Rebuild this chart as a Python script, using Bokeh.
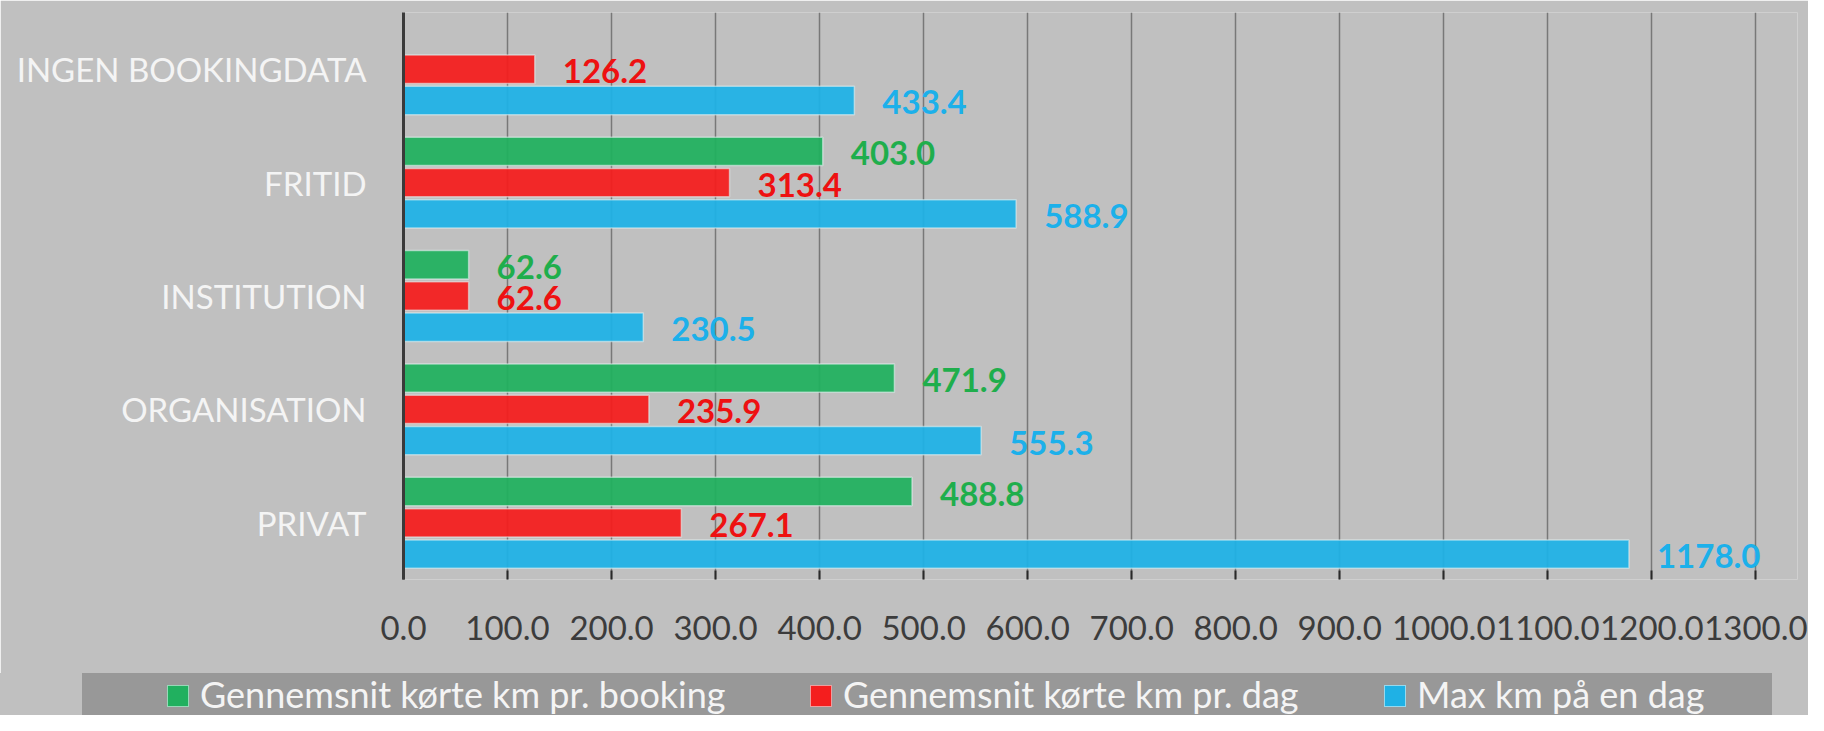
from bokeh.plotting import figure
from bokeh.layouts import column
from bokeh.models import (FactorRange, Range1d, ColumnDataSource, Div,
                          FixedTicker, NumeralTickFormatter)
from bokeh.transform import dodge
from bokeh.core.properties import value
from bokeh.embed import file_html
from bokeh.resources import INLINE

# ---- data ----
categories = ["INGEN BOOKINGDATA", "FRITID", "INSTITUTION", "ORGANISATION", "PRIVAT"]
avg_km_per_booking = [None, 403.0, 62.6, 471.9, 488.8]
avg_km_per_day = [126.2, 313.4, 62.6, 235.9, 267.1]
max_km_per_day = [433.4, 588.9, 230.5, 555.3, 1178.0]
series_names = ["Gennemsnit kørte km pr. booking", "Gennemsnit kørte km pr. dag", "Max km på en dag"]
x_tick_values = [0, 100, 200, 300, 400, 500, 600, 700, 800, 900, 1000, 1100, 1200, 1300]

# ---- styles ----
BG = "#c0c0c0"
LEGEND_BG = "#989898"
bar_colors = ["#21b05f", "#f41e1e", "#1fb1e5"]
label_colors = ["#1fae4c", "#ee1111", "#1cb0ea"]
offsets = [0.276, 0.0, -0.276]
FONT = "Lato"
bar_style = dict(fill_alpha=0.94, line_color="#e8f4f4", line_alpha=0.55, line_width=1.5)

p = figure(width=1808, height=673, output_backend="svg", toolbar_location=None,
           y_range=FactorRange(factors=list(reversed(categories)), range_padding=0),
           x_range=Range1d(0, 1340),
           min_border_left=403, min_border_right=11, min_border_top=12, min_border_bottom=94)
p.background_fill_color = BG
p.border_fill_color = BG
p.outline_line_color = None

for vals, bc, lc, off in zip([avg_km_per_booking, avg_km_per_day, max_km_per_day],
                             bar_colors, label_colors, offsets):
    cats = [c for c, v in zip(categories, vals) if v is not None]
    vv = [v for v in vals if v is not None]
    src = ColumnDataSource(dict(cat=cats, val=vv, txt=[f"{v:.1f}" for v in vv]))
    p.hbar(y=dodge("cat", off, range=p.y_range), left=0, right="val", height=0.25,
           source=src, fill_color=bc, **bar_style)
    p.text(x="val", y=dodge("cat", off, range=p.y_range), text="txt", source=src,
           x_offset=28, y_offset=2, text_baseline="middle", text_align="left",
           text_font=value(FONT), text_font_style="bold", text_font_size="33px",
           text_color=lc)

# grid
p.ygrid.grid_line_color = None
p.xgrid.ticker = FixedTicker(ticks=x_tick_values)
p.xgrid.grid_line_color = "#5a5a5a"
p.xgrid.grid_line_alpha = 0.7
p.xgrid.grid_line_width = 1.5

# x axis
xa = p.xaxis[0]
xa.ticker = FixedTicker(ticks=x_tick_values)
xa.formatter = NumeralTickFormatter(format="0.0")
xa.axis_line_color = None
xa.major_tick_in = 9
xa.major_tick_out = 0
xa.major_tick_line_color = "#2a2a2a"
xa.major_tick_line_width = 2
xa.minor_tick_line_color = None
xa.major_label_standoff = 36
xa.major_label_text_font = FONT
xa.major_label_text_font_size = "33px"
xa.major_label_text_color = "#3c3c3c"

# y axis
ya = p.yaxis[0]
ya.axis_line_color = "#3a3a3a"
ya.axis_line_width = 3
ya.major_tick_in = 0
ya.major_tick_out = 0
ya.minor_tick_line_color = None
ya.major_label_standoff = 37
ya.major_label_text_font = FONT
ya.major_label_text_font_size = "33px"
ya.major_label_text_color = "#f4f4f4"

# ---- legend strip (below the chart) ----
item_left = [167, 810, 1384]
items_html = "".join(
    f'<div style="position:absolute;left:{x}px;top:0;height:42px;display:flex;align-items:center;">'
    f'<span style="display:inline-block;width:22px;height:22px;background:{c};box-sizing:border-box;'
    f'border:1px solid rgba(232,244,244,0.6);margin-right:11px;margin-top:4px;"></span>'
    f'<span style="font-family:Lato;font-size:36px;color:#f4f4f4;line-height:42px;white-space:nowrap;">{name}</span>'
    f'</div>'
    for x, c, name in zip(item_left, bar_colors, series_names))
legend_html = (
    f'<div style="position:relative;width:1808px;height:42px;background:{BG};overflow:hidden;">'
    f'<div style="position:absolute;left:82px;top:0;width:1690px;height:42px;background:{LEGEND_BG};"></div>'
    f'{items_html}</div>')
legend_div = Div(text=legend_html, width=1808, height=42, margin=(0, 0, 0, 0))

layout = column(p, legend_div, spacing=0)
open("out.html", "w").write(file_html(layout, INLINE))
